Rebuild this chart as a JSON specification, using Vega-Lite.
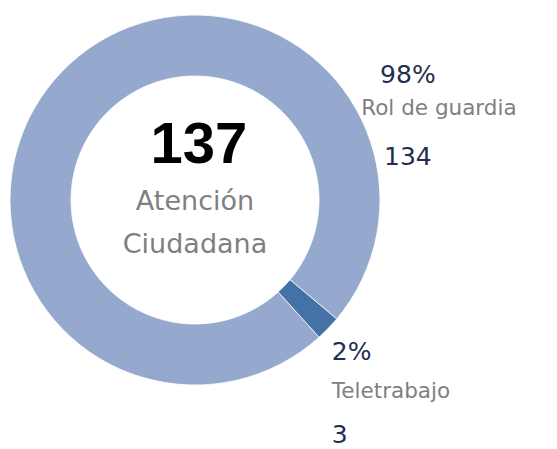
{
  "$schema": "https://vega.github.io/schema/vega-lite/v6.json",
  "width": 390,
  "height": 400,
  "autosize": {"type": "none"},
  "padding": {"left": 0, "top": 0, "right": 167, "bottom": 49},
  "background": "#ffffff",
  "config": {"view": {"stroke": null}},
  "data": {
    "values": [
      {"cat": "Rol de guardia", "count": 134, "share": 0.98, "area": "Atención Ciudadana"},
      {"cat": "Teletrabajo", "count": 3, "share": 0.02, "area": "Atención Ciudadana"}
    ]
  },
  "layer": [
    {
      "encoding": {
        "theta": {"field": "count", "type": "quantitative", "stack": true, "scale": {"range": [2.4065, 8.6897]}},
        "detail": {"field": "cat", "type": "nominal"},
        "order": {"field": "cat", "type": "nominal", "sort": "ascending"}
      },
      "layer": [
        {
          "mark": {"type": "arc", "outerRadius": 185, "innerRadius": 124, "stroke": "#ffffff", "strokeWidth": 0.8},
          "encoding": {
            "color": {"field": "cat", "type": "nominal", "legend": null,
              "scale": {"domain": ["Rol de guardia", "Teletrabajo"], "range": ["#95A9CE", "#4472A6"]}}
          }
        },
        {
          "mark": {"type": "text", "radius": 190, "align": "left", "baseline": "alphabetic", "dy": 28, "font": "DejaVu Sans", "fontSize": 25, "color": "#1F2E4F"},
          "encoding": {"text": {"condition": {"test": "datum.cat === 'Teletrabajo'", "field": "share", "type": "quantitative", "format": ".0%"}, "value": ""}}
        },
        {
          "mark": {"type": "text", "radius": 190, "align": "left", "baseline": "alphabetic", "dy": 66, "font": "DejaVu Sans", "fontSize": 21.5, "color": "#808080"},
          "encoding": {"text": {"condition": {"test": "datum.cat === 'Teletrabajo'", "field": "cat", "type": "nominal"}, "value": ""}}
        },
        {
          "mark": {"type": "text", "radius": 190, "align": "left", "baseline": "alphabetic", "dy": 111, "font": "DejaVu Sans", "fontSize": 25, "color": "#1F2E4F"},
          "encoding": {"text": {"condition": {"test": "datum.cat === 'Teletrabajo'", "field": "count", "type": "quantitative"}, "value": ""}}
        }
      ]
    },
    {
      "encoding": {
        "theta": {"field": "count", "type": "quantitative", "stack": true, "scale": {"range": [-1.8441, 4.4391]}},
        "detail": {"field": "cat", "type": "nominal"},
        "order": {"field": "cat", "type": "nominal", "sort": "ascending"}
      },
      "layer": [
        {
          "mark": {"type": "text", "radius": 226, "align": "center", "baseline": "alphabetic", "dy": -41, "font": "DejaVu Sans", "fontSize": 25, "color": "#1F2E4F"},
          "encoding": {"text": {"condition": {"test": "datum.cat === 'Rol de guardia'", "field": "share", "type": "quantitative", "format": ".0%"}, "value": ""}}
        },
        {
          "mark": {"type": "text", "radius": 226, "align": "center", "baseline": "alphabetic", "dx": 31, "dy": -9, "font": "DejaVu Sans", "fontSize": 21.5, "color": "#808080"},
          "encoding": {"text": {"condition": {"test": "datum.cat === 'Rol de guardia'", "field": "cat", "type": "nominal"}, "value": ""}}
        },
        {
          "mark": {"type": "text", "radius": 226, "align": "center", "baseline": "alphabetic", "dy": 41, "font": "DejaVu Sans", "fontSize": 25, "color": "#1F2E4F"},
          "encoding": {"text": {"condition": {"test": "datum.cat === 'Rol de guardia'", "field": "count", "type": "quantitative"}, "value": ""}}
        }
      ]
    },
    {
      "transform": [{"aggregate": [{"op": "sum", "field": "count", "as": "total"}], "groupby": ["area"]}],
      "layer": [
        {
          "mark": {"type": "text", "font": "Liberation Sans", "fontWeight": "bold", "fontSize": 58, "align": "center", "baseline": "alphabetic", "dx": 4, "dy": -37, "color": "#000000"},
          "encoding": {"text": {"field": "total", "type": "quantitative"}}
        },
        {
          "mark": {"type": "text", "font": "DejaVu Sans", "fontSize": 27, "align": "center", "baseline": "alphabetic", "lineBreak": " ", "lineHeight": 43, "dy": 10, "color": "#7F7F7F"},
          "encoding": {"text": {"field": "area", "type": "nominal"}}
        }
      ]
    }
  ],
  "resolve": {"scale": {"theta": "independent"}}
}
